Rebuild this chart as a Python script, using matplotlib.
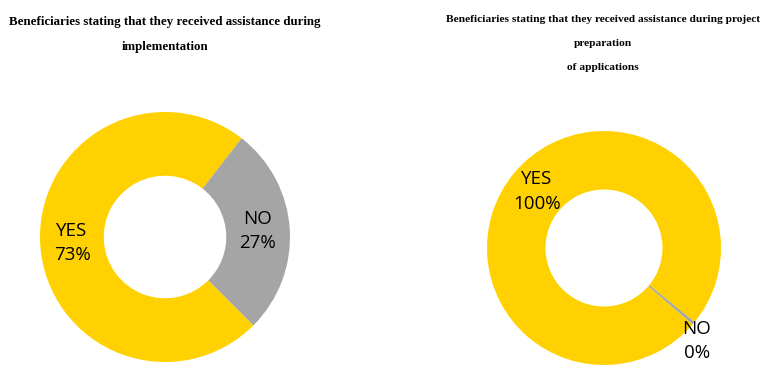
import matplotlib
matplotlib.use("Agg")
import numpy as np
from matplotlib import pyplot as plt

# Donut chart data (percent)
categories = ["YES", "NO"]
implementation_values = [73, 27]
preparation_values = [99.6, 0.4]

implementation_title = ["Beneficiaries stating that they received assistance during",
                        "implementation"]
preparation_title = ["Beneficiaries stating that they received assistance during project",
                     "preparation",
                     "of applications"]

COLORS = ["#FFD100", "#A5A5A5"]
LABEL_FONT = dict(family="Open Sans", size=13.5, color="black")
TITLE_FONT = dict(family="Liberation Serif", weight="bold", color="black")


def draw_donut(ax, values, startangle, hole, outside=None):
    labels = [f"{c}\n{round(v):d}%" for c, v in zip(categories, values)]
    wedges, texts = ax.pie(
        values,
        labels=labels,
        colors=COLORS,
        startangle=startangle,
        counterclock=True,
        radius=1.0,
        labeldistance=(1 + hole) / 2,
        wedgeprops=dict(width=1 - hole, linewidth=0),
        textprops=dict(ha="center", va="center", linespacing=1.45, **LABEL_FONT),
    )
    for t in texts:
        t.set_ha("center")
        t.set_va("center")
        t.set_clip_on(False)
    # labels that sit outside the ring: (distance, angle shift in degrees)
    for i, (dist, shift) in (outside or {}).items():
        w = wedges[i]
        theta = np.deg2rad((w.theta1 + w.theta2) / 2 + shift)
        texts[i].set_position((dist * np.cos(theta), dist * np.sin(theta)))
    ax.set_xlim(-1, 1)
    ax.set_ylim(-1, 1)
    ax.set_aspect("equal")
    ax.axis("off")


W, H = 763, 365
fig = plt.figure(figsize=(W / 100, H / 100), dpi=100)

# left donut: centre (165, 237) px, radius 125 px
ax1 = fig.add_axes([(165 - 125) / W, (H - 237 - 125) / H, 250 / W, 250 / H])
draw_donut(ax1, implementation_values, startangle=52.2, hole=0.49)

# right donut: centre (604, 248) px, radius 117 px
ax2 = fig.add_axes([(604 - 117) / W, (H - 248 - 117) / H, 234 / W, 234 / H])
draw_donut(ax2, preparation_values, startangle=-39.3, hole=0.5, outside={1: (1.12, -5)})

for line, y in zip(implementation_title, [22, 47]):
    fig.text(165 / W, 1 - y / H, line, ha="center", va="center", size=9.3, **TITLE_FONT)
for line, y in zip(preparation_title, [20, 43, 67]):
    fig.text(603 / W, 1 - y / H, line, ha="center", va="center", size=8.2, **TITLE_FONT)

fig.savefig("out.png", dpi=100, facecolor="white")
